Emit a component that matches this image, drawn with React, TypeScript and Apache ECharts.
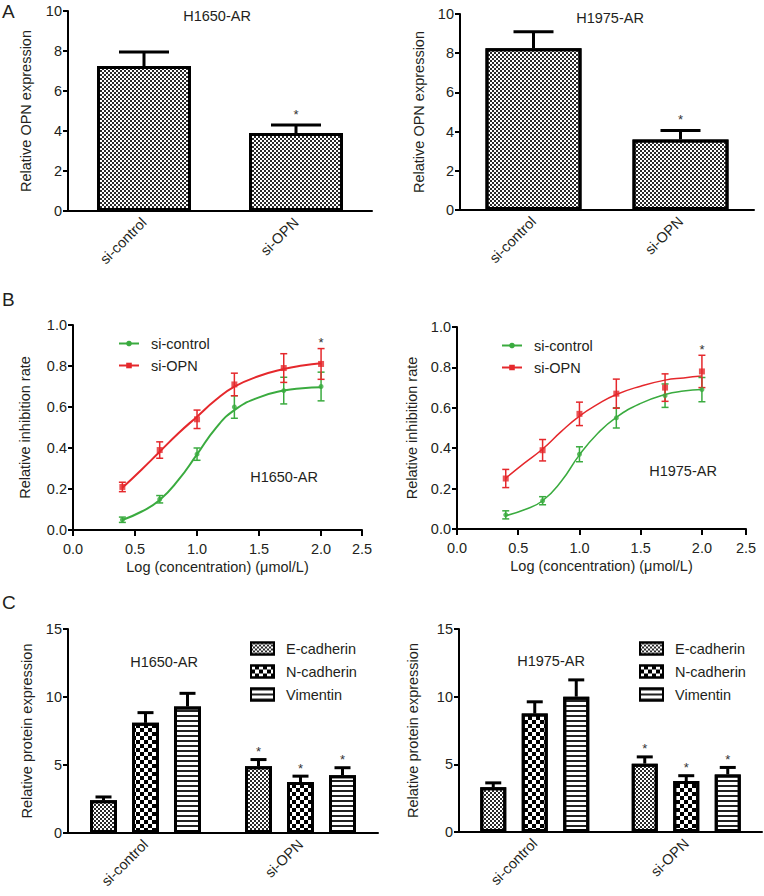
import React, { useEffect, useRef } from "react";
import * as echarts from "echarts";

const FONT = '"Liberation Sans", Arial, Helvetica, sans-serif';
const TXT = "#231f20";
const GREEN = "#3aab3f";
const RED = "#e5282c";

// ---------- Panel A : OPN expression ----------
const opnGroups = ["si-control", "si-OPN"];
const opnH1650 = [7.25, 3.9];
const opnH1650Sd = [0.7, 0.4];
const opnH1975 = [8.25, 3.6];
const opnH1975Sd = [0.85, 0.45];
const opnSig = [0, 1];

// ---------- Panel B : inhibition curves ----------
const logConc = [0.398, 0.699, 1.0, 1.301, 1.699, 2.0];
const logTickLabels = ["0.0", "0.5", "1.0", "1.5", "2.0", "2.5"];
const h1650Ctrl = [0.05, 0.15, 0.37, 0.6, 0.68, 0.7];
const h1650CtrlSd = [0.013, 0.018, 0.03, 0.055, 0.065, 0.07];
const h1650Opn = [0.21, 0.39, 0.54, 0.71, 0.79, 0.81];
const h1650OpnSd = [0.023, 0.04, 0.045, 0.055, 0.07, 0.075];
const h1975Ctrl = [0.07, 0.14, 0.37, 0.55, 0.66, 0.69];
const h1975CtrlSd = [0.02, 0.02, 0.037, 0.05, 0.058, 0.06];
const h1975Opn = [0.25, 0.39, 0.57, 0.67, 0.7, 0.78];
const h1975OpnSd = [0.045, 0.053, 0.058, 0.072, 0.068, 0.08];
const ctrlSig = [0, 0, 0, 0, 0, 0];
const opnSigB = [0, 0, 0, 0, 0, 1];
// fitted curves
const fitX = [0.398, 0.55, 0.699, 0.85, 1.0, 1.15, 1.301, 1.5, 1.699, 1.85, 2.0];
const h1650CtrlFit = [0.049, 0.089, 0.146, 0.244, 0.369, 0.496, 0.585, 0.647, 0.68, 0.691, 0.696];
const h1650OpnFit = [0.206, 0.293, 0.382, 0.472, 0.553, 0.634, 0.699, 0.751, 0.785, 0.802, 0.813];
const h1975CtrlFit = [0.066, 0.095, 0.14, 0.235, 0.367, 0.474, 0.553, 0.622, 0.666, 0.683, 0.69];
const h1975OpnFit = [0.252, 0.326, 0.396, 0.482, 0.559, 0.618, 0.666, 0.707, 0.737, 0.748, 0.757];

// ---------- Panel C : EMT markers ----------
const proteins = ["E-cadherin", "N-cadherin", "Vimentin"];
const h1650Ecad = [2.4, 4.9];
const h1650EcadSd = [0.25, 0.5];
const h1650Ncad = [8.1, 3.75];
const h1650NcadSd = [0.75, 0.43];
const h1650Vim = [9.3, 4.25];
const h1650VimSd = [0.97, 0.55];
const h1975Ecad = [3.3, 5.05];
const h1975EcadSd = [0.33, 0.5];
const h1975Ncad = [8.75, 3.76];
const h1975NcadSd = [0.87, 0.4];
const h1975Vim = [10.0, 4.25];
const h1975VimSd = [1.24, 0.52];
const protSig = [0, 1];

// ---------- styles ----------
const decalFine: any = {
  symbol: "rect",
  symbolSize: 1,
  color: "#2a2a2a",
  dashArrayX: [[2, 2], [0, 2, 2, 0]],
  dashArrayY: [2, 0],
};
const decalChecker: any = {
  symbol: "rect",
  symbolSize: 1,
  color: "#000",
  dashArrayX: [[4, 4], [0, 4, 4, 0]],
  dashArrayY: [4, 0],
};
const decalStripes: any = {
  symbol: "rect",
  symbolSize: 1,
  symbolKeepAspect: false,
  color: "#222",
  dashArrayX: [4, 0],
  dashArrayY: [1.6, 2.4],
};
const proteinDecals = [decalFine, decalChecker, decalStripes];

const labelStyle = { color: TXT, fontSize: 14.5, fontFamily: FONT };

function makeErr(offset: number, capW: number, color: string, lw: number, twoSided: boolean, starDy: number) {
  return (params: any, api: any) => {
    const x = api.value(0);
    const m = api.value(1);
    const e = api.value(2);
    const sig = api.value(3);
    const pm = api.coord([x, m]);
    const pt = api.coord([x, m + e]);
    const pb = twoSided ? api.coord([x, m - e]) : pm;
    const cx = pm[0] + offset;
    const st = { stroke: color, lineWidth: lw };
    const ch: any[] = [
      { type: "line", shape: { x1: cx, y1: pb[1], x2: cx, y2: pt[1] }, style: st },
      { type: "line", shape: { x1: cx - capW / 2, y1: pt[1], x2: cx + capW / 2, y2: pt[1] }, style: st },
    ];
    if (twoSided) {
      ch.push({ type: "line", shape: { x1: cx - capW / 2, y1: pb[1], x2: cx + capW / 2, y2: pb[1] }, style: st });
    }
    if (sig) {
      ch.push({
        type: "text",
        style: { text: "*", x: cx, y: pt[1] - starDy, align: "center", verticalAlign: "middle", font: `13px ${FONT}`, fill: "#333" },
      });
    }
    return { type: "group", children: ch };
  };
}

function catX(idx: number) {
  return {
    gridIndex: idx,
    type: "category",
    data: opnGroups,
    boundaryGap: true,
    axisLine: { onZero: false, lineStyle: { color: "#000", width: 2 } },
    axisTick: { alignWithLabel: true, length: 6, lineStyle: { color: "#000", width: 2 } },
    axisLabel: { ...labelStyle, rotate: 45, margin: 9, interval: 0 },
    splitLine: { show: false },
  };
}
function valY(idx: number, max: number, interval: number, name: string, nameGap: number, dec: number) {
  return {
    gridIndex: idx,
    type: "value",
    min: 0,
    max,
    interval,
    name,
    nameLocation: "middle",
    nameGap,
    nameTextStyle: labelStyle,
    axisLine: { show: true, onZero: false, lineStyle: { color: "#000", width: 2 } },
    axisTick: { show: true, length: 5, lineStyle: { color: "#000", width: 2 } },
    axisLabel: { ...labelStyle, margin: 6, formatter: (v: number) => v.toFixed(dec) },
    splitLine: { show: false },
  };
}
function logX(idx: number, max: number) {
  return {
    gridIndex: idx,
    type: "value",
    min: 0,
    max,
    interval: 0.5,
    name: "Log (concentration) (μmol/L)",
    nameLocation: "middle",
    nameGap: 29,
    nameTextStyle: labelStyle,
    axisLine: { show: true, onZero: false, lineStyle: { color: "#000", width: 2 } },
    axisTick: { show: true, length: 6, lineStyle: { color: "#000", width: 2 } },
    axisLabel: { ...labelStyle, margin: 11, showMaxLabel: true, showMinLabel: true, formatter: (v: number, i: number) => logTickLabels[i] ?? "" },
    splitLine: { show: false },
  };
}

function opnSeries(idx: number, vals: number[], sd: number[], barW: number, capW: number) {
  return [
    {
      type: "bar",
      xAxisIndex: idx,
      yAxisIndex: idx,
      data: vals,
      barWidth: barW,
      itemStyle: { color: "#fff", borderColor: "#000", borderWidth: 3, decal: decalFine },
      emphasis: { disabled: true },
      z: 2,
    },
    {
      type: "custom",
      xAxisIndex: idx,
      yAxisIndex: idx,
      data: vals.map((v, i) => [i, v, sd[i], opnSig[i]]),
      renderItem: makeErr(0, capW, "#000", 3, false, 11),
      z: 3,
    },
  ];
}

function curveSeries(idx: number, name: string, color: string, fit: number[], mean: number[], sd: number[], sig: number[], symbol: string, size: number, lw: number) {
  return [
    {
      type: "line",
      name,
      xAxisIndex: idx,
      yAxisIndex: idx,
      data: fitX.map((x, i) => [x, fit[i]]),
      smooth: 0.5,
      showSymbol: false,
      symbol,
      symbolSize: size,
      lineStyle: { color, width: lw },
      itemStyle: { color },
      emphasis: { disabled: true },
      z: 2,
    },
    {
      type: "custom",
      name,
      xAxisIndex: idx,
      yAxisIndex: idx,
      data: logConc.map((x, i) => [x, mean[i], sd[i], sig[i]]),
      renderItem: makeErr(0, 7, color, 1.5, true, 6),
      z: 3,
    },
    {
      type: "scatter",
      name,
      xAxisIndex: idx,
      yAxisIndex: idx,
      data: logConc.map((x, i) => [x, mean[i]]),
      symbol,
      symbolSize: size,
      itemStyle: { color },
      emphasis: { disabled: true },
      z: 4,
    },
  ];
}

function proteinSeries(idx: number, sets: number[][], sds: number[][], barW: number, spacing: number) {
  const out: any[] = [];
  sets.forEach((vals, s) => {
    out.push({
      type: "bar",
      name: proteins[s],
      xAxisIndex: idx,
      yAxisIndex: idx,
      data: vals,
      barWidth: barW,
      barGap: `${((spacing - barW) / barW) * 100}%`,
      itemStyle: { color: "#fff", borderColor: "#000", borderWidth: 3, decal: proteinDecals[s] },
      emphasis: { disabled: true },
      z: 2,
    });
  });
  sets.forEach((vals, s) => {
    out.push({
      type: "custom",
      xAxisIndex: idx,
      yAxisIndex: idx,
      data: vals.map((v, i) => [i, v, sds[s][i], protSig[i]]),
      renderItem: makeErr((s - 1) * spacing, 16, "#000", 3, false, 8),
      z: 3,
    });
  });
  return out;
}

function txt(text: string, x: number, y: number, size = 14.5, align = "center") {
  return {
    type: "text",
    x,
    y,
    style: { text, font: `${size}px ${FONT}`, fill: TXT, align, verticalAlign: "middle" },
    z: 10,
  };
}

export default function App() {
  const ref = useRef<HTMLDivElement>(null);
  useEffect(() => {
    if (!ref.current) return;
    const chart = echarts.init(ref.current, undefined, { renderer: "svg" });
    const legendText = { ...labelStyle, padding: [0, 0, 0, 7] };
    const option: any = {
      animation: false,
      backgroundColor: "#fff",
      grid: [
        { left: 68, top: 11, width: 304, height: 200 },
        { left: 460, top: 14, width: 294, height: 196 },
        { left: 73, top: 325, width: 289, height: 205 },
        { left: 457, top: 327, width: 289, height: 202 },
        { left: 68, top: 629, width: 310, height: 204 },
        { left: 459, top: 629, width: 303, height: 203 },
      ],
      xAxis: [catX(0), catX(1), logX(2, 2.33), logX(3, 2.36), catX(4), catX(5)],
      yAxis: [
        valY(0, 10, 2, "Relative OPN expression", 35, 0),
        valY(1, 10, 2, "Relative OPN expression", 34, 0),
        valY(2, 1, 0.2, "Relative inhibition rate", 41, 1),
        valY(3, 1, 0.2, "Relative inhibition rate", 38, 1),
        valY(4, 15, 5, "Relative protein expression", 34, 0),
        valY(5, 15, 5, "Relative protein expression", 39, 0),
      ],
      legend: [
        {
          orient: "vertical", left: 113, top: 331, itemWidth: 20, itemHeight: 7, itemGap: 7,
          data: ["si-control", "si-OPN"], textStyle: legendText, selectedMode: false,
        },
        {
          orient: "vertical", left: 496, top: 333, itemWidth: 20, itemHeight: 7, itemGap: 7,
          data: ["si-control", "si-OPN"], textStyle: legendText, selectedMode: false,
        },
        {
          orient: "vertical", left: 245, top: 636, itemWidth: 23, itemHeight: 12, itemGap: 8, icon: "rect",
          data: proteins, textStyle: legendText, selectedMode: false,
        },
        {
          orient: "vertical", left: 634, top: 636, itemWidth: 23, itemHeight: 12, itemGap: 8, icon: "rect",
          data: proteins, textStyle: legendText, selectedMode: false,
        },
      ],
      graphic: [
        txt("A", 2, 11, 19, "left"),
        txt("B", 2, 299, 19, "left"),
        txt("C", 2, 602, 19, "left"),
        txt("H1650-AR", 217, 16),
        txt("H1975-AR", 610, 18),
        txt("H1650-AR", 284, 477),
        txt("H1975-AR", 683, 471),
        txt("H1650-AR", 164, 662),
        txt("H1975-AR", 551, 661),
      ],
      series: [
        ...opnSeries(0, opnH1650, opnH1650Sd, 94, 50),
        ...opnSeries(1, opnH1975, opnH1975Sd, 96, 40),
        ...curveSeries(2, "si-control", GREEN, h1650CtrlFit, h1650Ctrl, h1650CtrlSd, ctrlSig, "circle", 5, 2),
        ...curveSeries(2, "si-OPN", RED, h1650OpnFit, h1650Opn, h1650OpnSd, opnSigB, "rect", 6, 2),
        ...curveSeries(3, "si-control", GREEN, h1975CtrlFit, h1975Ctrl, h1975CtrlSd, ctrlSig, "circle", 5, 1.5),
        ...curveSeries(3, "si-OPN", RED, h1975OpnFit, h1975Opn, h1975OpnSd, opnSigB, "rect", 6, 1.5),
        ...proteinSeries(4, [h1650Ecad, h1650Ncad, h1650Vim], [h1650EcadSd, h1650NcadSd, h1650VimSd], 27, 42),
        ...proteinSeries(5, [h1975Ecad, h1975Ncad, h1975Vim], [h1975EcadSd, h1975NcadSd, h1975VimSd], 26, 41.5),
      ],
    };
    chart.setOption(option);
    return () => chart.dispose();
  }, []);
  return (
    <div
      ref={ref}
      style={{ position: "absolute", left: 0, top: 0, width: 764, height: 896, background: "#fff" }}
    />
  );
}
